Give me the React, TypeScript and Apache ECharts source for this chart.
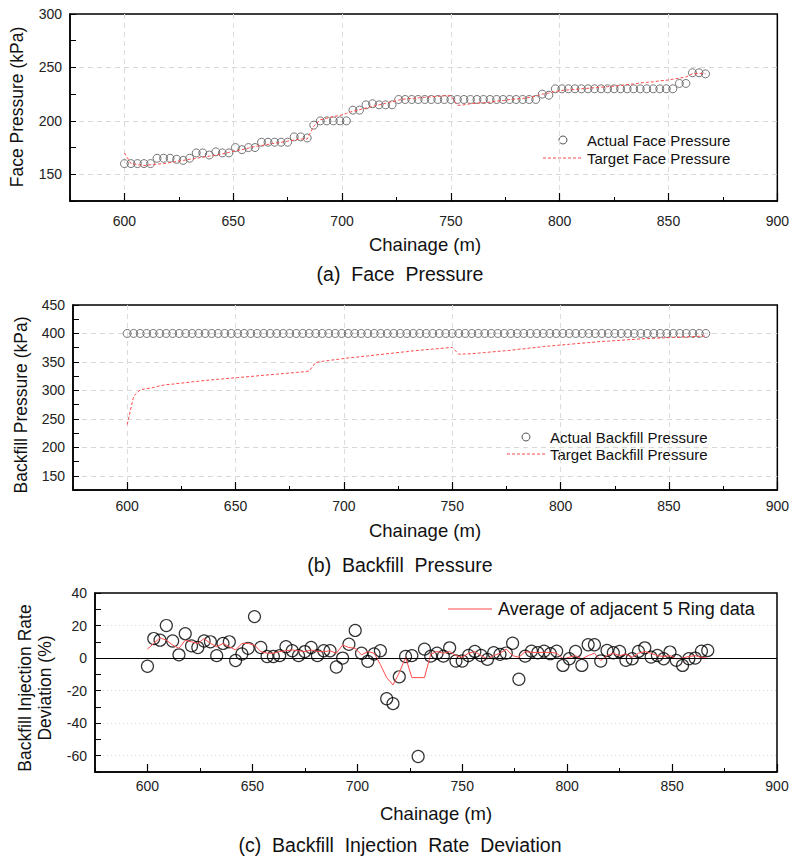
import React, { useEffect, useRef } from "react";
import * as echarts from "echarts";

const chainage = [
  600, 603, 606, 609, 612, 615, 618, 621, 624, 627, 630, 633, 636, 639, 642, 645, 648, 651, 654, 657,
  660, 663, 666, 669, 672, 675, 678, 681, 684, 687, 690, 693, 696, 699, 702, 705, 708, 711, 714, 717,
  720, 723, 726, 729, 732, 735, 738, 741, 744, 747, 750, 753, 756, 759, 762, 765, 768, 771, 774, 777,
  780, 783, 786, 789, 792, 795, 798, 801, 804, 807, 810, 813, 816, 819, 822, 825, 828, 831, 834, 837,
  840, 843, 846, 849, 852, 855, 858, 861, 864, 867,
];

const faceActual = [
  160, 160, 160, 160, 160, 165, 165, 165, 164, 163, 165, 170, 170, 168, 171, 170, 170, 175, 173, 175,
  175, 180, 180, 180, 180, 180, 185, 185, 184, 196, 200, 200, 200, 200, 200, 210, 210, 215, 216, 215,
  215, 215, 220, 220, 220, 220, 220, 220, 220, 220, 220, 220, 220, 220, 220, 220, 220, 220, 220, 220,
  220, 220, 220, 220, 225, 224, 230, 230, 230, 230, 230, 230, 230, 230, 230, 230, 230, 230, 230, 230,
  230, 230, 230, 230, 230, 235, 235, 245, 245, 244,
];

const faceTarget = [
  170, 160, 159, 158, 159, 159.5, 160, 161, 162, 163, 164, 165, 166, 167, 168, 169, 170.5, 172, 173, 174.5,
  176, 177, 178, 179, 180, 181, 182, 183, 183, 195, 201, 202.5, 204, 205, 207, 209, 210.5, 212, 213.5, 215,
  216.5, 218, 219.5, 220.5, 221, 221.5, 222, 222.5, 223, 223.5, 223.5, 214.5, 215, 216, 216.5, 217, 217.5, 218.5, 219, 220,
  220.5, 221, 222, 223, 225, 226, 227.5, 228.5, 229, 229.5, 230, 230.5, 231, 231.5, 232, 232.5, 233, 234, 234.5, 235.5,
  236, 236.5, 237.5, 238, 239, 240, 241, 244, 244.5, 244,
];

const backfillActual = [
  400, 400, 400, 400, 400, 400, 400, 400, 400, 400, 400, 400, 400, 400, 400, 400, 400, 400, 400, 400,
  400, 400, 400, 400, 400, 400, 400, 400, 400, 400, 400, 400, 400, 400, 400, 400, 400, 400, 400, 400,
  400, 400, 400, 400, 400, 400, 400, 400, 400, 400, 400, 400, 400, 400, 400, 400, 400, 400, 400, 400,
  400, 400, 400, 400, 400, 400, 400, 400, 400, 400, 400, 400, 400, 400, 400, 400, 400, 400, 400, 400,
  400, 400, 400, 400, 400, 400, 400, 400, 400, 400,
];

const backfillTarget = [
  240, 290, 301, 303, 305, 308, 310, 311, 312.5, 313.5, 315, 316, 317.5, 318.5, 319.5, 320.5, 321.5, 322.5, 323.5, 324.5,
  325.5, 326.5, 327.5, 328.5, 329.5, 330.5, 331.5, 332.5, 334, 349, 351, 352.5, 354, 355.5, 357, 358, 359.5, 360.5, 362, 363,
  364.5, 365.5, 367, 368, 369.5, 370.5, 371.5, 372.5, 373.5, 374.5, 375.5, 363.5, 364, 364.5, 365.5, 366.5, 367.5, 368.5, 369.5, 370.5,
  372, 373, 374.5, 375.5, 377, 378, 379, 380, 381, 382, 383, 384, 385, 386, 386.5, 387.5, 388, 389, 389.5, 390.5,
  391, 391.5, 392, 392.5, 393, 393.5, 394, 394.5, 395, 395.5,
];

const deviation = [
  -5, 12, 11, 20, 10.5, 2, 15, 7.5, 6.5, 10.5, 10, 1.5, 9, 10, -1.5, 2.5, 6, 25.5, 6.5, 1,
  1, 1.5, 7, 4.5, 1.5, 4, 6.5, 1.5, 4.5, 4.5, -5.5, 0, 8.5, 17, 3, -2, 2.5, 4.5, -25, -28,
  -11.5, 1, 1.5, -60.5, 5.5, 1.2, 3, 1.2, 6.3, -1.8, -1.8, 1.6, 4.1, 1.6, -0.8, 3.3, 2.3, 3.1, 9.1, -13,
  1.2, 4.3, 3.3, 4.3, 2.7, 4.3, -4.5, -0.4, 4.1, -4.5, 8.2, 8.2, -1.8, 4.7, 3.3, 4.1, -1.4, -0.4, 4.1, 6.3,
  0.6, 1.6, -0.4, 3.7, -1.4, -4.5, -0.4, 0, 4.3, 4.7,
];

const deviationAvg = [
  5.5, 9, 12.5, 11, 8, 6, 11, 10, 9, 12, 9, 7, 9, 7, 5, 9, 9, 8, 4, 3,
  3, 4, 4.5, 5, 4.5, 4, 5, 4, 4, 4.5, 3, 8, 6.5, 6, 2, 4, 3, -4, -12, -16.5,
  -9, 0.5, -12, -12, -12, 2.5, 4, 3, 4, 1.5, 0.5, 3, 4, 1.5, -0.5, 1.5, 3, 5.5, 1.5, 0.5,
  4, 3.5, 3.5, 3.5, 3.5, 3, -0.5, 0.5, 1.5, -0.5, 1.5, 3, -1.5, 1.5, 3, 1.5, 2.5, 0.5, 3, 4,
  3, 1.5, 1, 1.5, -0.5, 0, 1, 1.5, 0.5, 0,
];

const xTickLabels = [600, 650, 700, 750, 800, 850, 900];
const faceTickLabels = [150, 200, 250, 300];
const backfillTickLabels = [150, 200, 250, 300, 350, 400, 450];
const deviationTickLabels = [-60, -40, -20, 0, 20, 40];

const FONT = "'Liberation Sans', Arial, sans-serif";

const pairs = (ys: number[]) => ys.map((y, i) => [chainage[i], y]);

function xAxesFor(gi: number, showSplit: boolean, margin: number) {
  return [
    {
      type: "value",
      gridIndex: gi,
      min: 575,
      max: 900,
      interval: 25,
      axisLine: { show: true, onZero: false, lineStyle: { color: "#000", width: 1.5 } },
      axisTick: { show: true, inside: true, length: 4, lineStyle: { color: "#000", width: 1 } },
      axisLabel: {
        formatter: (v: number) => (xTickLabels.indexOf(v) >= 0 ? String(v) : ""),
        color: "#222",
        fontSize: 14,
        fontFamily: FONT,
        margin,
      },
      splitLine: {
        show: showSplit,
        showMinLine: true,
        showMaxLine: false,
        lineStyle: { color: ["rgba(0,0,0,0)", "#dcdcdc"], type: [5, 4], width: 1 },
      },
    },
    {
      type: "value",
      gridIndex: gi,
      min: 575,
      max: 900,
      position: "bottom",
      axisLine: { show: false, onZero: false },
      axisLabel: { show: false },
      splitLine: { show: false },
      axisTick: {
        show: true,
        inside: true,
        length: 8,
        customValues: xTickLabels,
        lineStyle: { color: "#000", width: 1.2 },
      },
    },
  ];
}

function yAxisFor(gi: number, min: number, max: number, interval: number, labels: number[], splitType: any) {
  return {
    type: "value",
    gridIndex: gi,
    min,
    max,
    interval,
    axisLine: { show: true, onZero: false, lineStyle: { color: "#000", width: 1.5 } },
    axisTick: { show: true, inside: true, length: 6, lineStyle: { color: "#000", width: 1 } },
    axisLabel: {
      formatter: (v: number) => (labels.indexOf(v) >= 0 ? String(v) : ""),
      color: "#222",
      fontSize: 14,
      fontFamily: FONT,
      margin: 8,
    },
    splitLine: {
      show: true,
      showMinLine: true,
      showMaxLine: false,
      lineStyle: { color: ["rgba(0,0,0,0)", "#d8d8d8"], type: splitType, width: 1 },
    },
  };
}

function txt(x: number, y: number, text: string, size: number, extra: any = {}) {
  return {
    type: "text",
    x,
    y,
    silent: true,
    style: {
      text,
      fontSize: size,
      fontFamily: FONT,
      fill: "#111",
      textAlign: "center",
      textVerticalAlign: "middle",
      ...extra,
    },
  };
}

function vtxt(x: number, y: number, text: string, size: number) {
  return {
    type: "text",
    x,
    y,
    rotation: Math.PI / 2,
    silent: true,
    style: {
      text,
      fontSize: size,
      fontFamily: FONT,
      fill: "#111",
      textAlign: "center",
      textVerticalAlign: "middle",
      lineHeight: 20,
    },
  };
}

export default function App() {
  const ref = useRef<HTMLDivElement>(null);
  useEffect(() => {
    if (!ref.current) return;
    const chart = echarts.init(ref.current, null, { renderer: "svg" });
    const redDash = { color: "#ff4a4a", width: 1, type: [3, 2] };
    const option: any = {
      animation: false,
      backgroundColor: "#fff",
      grid: [
        { left: 70, top: 14, width: 710, height: 187, show: true, borderColor: "#000", borderWidth: 1.5 },
        { left: 73, top: 305, width: 705, height: 185, show: true, borderColor: "#000", borderWidth: 1.5 },
        { left: 95, top: 593, width: 682, height: 179, show: true, borderColor: "#000", borderWidth: 1.5 },
      ],
      xAxis: [...xAxesFor(0, true, 13), ...xAxesFor(1, true, 9), ...xAxesFor(2, false, 7)],
      yAxis: [
        yAxisFor(0, 125, 300, 25, faceTickLabels, [5, 4]),
        yAxisFor(1, 125, 450, 25, backfillTickLabels, [5, 4]),
        yAxisFor(2, -70, 40, 10, deviationTickLabels, [1, 3]),
      ],
      series: [
        {
          name: "Actual Face Pressure",
          type: "scatter",
          xAxisIndex: 0,
          yAxisIndex: 0,
          data: pairs(faceActual),
          symbol: "circle",
          symbolSize: 8,
          itemStyle: { color: "rgba(0,0,0,0)", borderColor: "#555", borderWidth: 1 },
          z: 2,
        },
        {
          name: "Target Face Pressure",
          type: "line",
          xAxisIndex: 0,
          yAxisIndex: 0,
          data: pairs(faceTarget),
          symbol: "none",
          lineStyle: redDash,
          z: 3,
        },
        {
          name: "Actual Backfill Pressure",
          type: "scatter",
          xAxisIndex: 2,
          yAxisIndex: 1,
          data: pairs(backfillActual),
          symbol: "circle",
          symbolSize: 8,
          itemStyle: { color: "rgba(0,0,0,0)", borderColor: "#555", borderWidth: 1 },
          z: 2,
        },
        {
          name: "Target Backfill Pressure",
          type: "line",
          xAxisIndex: 2,
          yAxisIndex: 1,
          data: pairs(backfillTarget),
          symbol: "none",
          lineStyle: redDash,
          z: 3,
        },
        {
          name: "Backfill Injection Rate Deviation",
          type: "scatter",
          xAxisIndex: 4,
          yAxisIndex: 2,
          data: pairs(deviation),
          symbol: "circle",
          symbolSize: 12,
          itemStyle: { color: "rgba(0,0,0,0)", borderColor: "#000", borderWidth: 1.2 },
          z: 2,
        },
        {
          name: "Average of adjacent 5 Ring data",
          type: "line",
          xAxisIndex: 4,
          yAxisIndex: 2,
          data: pairs(deviationAvg),
          symbol: "none",
          lineStyle: { color: "#ff4a4a", width: 1 },
          z: 3,
          markLine: {
            silent: true,
            symbol: "none",
            label: { show: false },
            lineStyle: { color: "#000", width: 1, type: "solid" },
            data: [{ yAxis: 0 }],
          },
        },
      ],
      graphic: [
        // panel (a)
        vtxt(17, 107, "Face Pressure (kPa)", 17.5),
        txt(425, 244, "Chainage (m)", 18.5),
        txt(400, 274, "(a)  Face  Pressure", 19.5),
        { type: "circle", silent: true, shape: { cx: 563, cy: 140, r: 4 }, style: { fill: "none", stroke: "#555", lineWidth: 1 } },
        txt(587, 140, "Actual Face Pressure", 15, { textAlign: "left" }),
        { type: "line", silent: true, shape: { x1: 543, y1: 158, x2: 582, y2: 158 }, style: { stroke: "#ff4a4a", lineWidth: 1, lineDash: [3, 2] } },
        txt(587, 158, "Target Face Pressure", 15, { textAlign: "left" }),
        // panel (b)
        vtxt(21, 405, "Backfill Pressure (kPa)", 17.5),
        txt(425, 530, "Chainage (m)", 18.5),
        txt(400, 565, "(b)  Backfill  Pressure", 19.5),
        { type: "circle", silent: true, shape: { cx: 526, cy: 437, r: 4 }, style: { fill: "none", stroke: "#555", lineWidth: 1 } },
        txt(550, 437, "Actual Backfill Pressure", 15, { textAlign: "left" }),
        { type: "line", silent: true, shape: { x1: 507, y1: 454, x2: 546, y2: 454 }, style: { stroke: "#ff4a4a", lineWidth: 1, lineDash: [3, 2] } },
        txt(550, 454, "Target Backfill Pressure", 15, { textAlign: "left" }),
        // panel (c)
        vtxt(35, 688, "Backfill Injection Rate\nDeviation (%)", 17.5),
        txt(436, 813, "Chainage (m)", 18.5),
        txt(400, 845, "(c)  Backfill  Injection  Rate  Deviation", 19.5),
        { type: "line", silent: true, shape: { x1: 448, y1: 609, x2: 492, y2: 609 }, style: { stroke: "#ff4a4a", lineWidth: 1 } },
        txt(498, 609, "Average of adjacent 5 Ring data", 18, { textAlign: "left" }),
      ],
    };
    chart.setOption(option);
    return () => chart.dispose();
  }, []);
  return (
    <div
      ref={ref}
      style={{ position: "absolute", left: 0, top: 0, width: 792, height: 856, background: "#fff" }}
    />
  );
}
